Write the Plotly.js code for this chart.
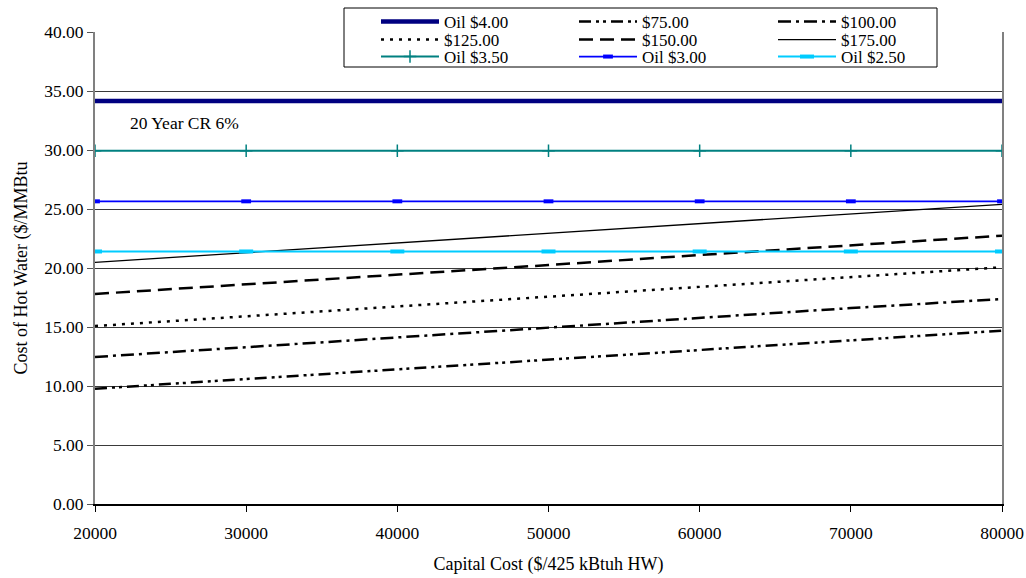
<!DOCTYPE html>
<html>
<head>
<meta charset="utf-8">
<script src="https://cdn.plot.ly/plotly-3.0.1.min.js"></script>
<style>html,body{margin:0;padding:0;background:#fff;}#chart{width:1026px;height:578px;}</style>
</head>
<body>
<div id="chart"></div>
<script>
// Capital cost ($/425 kBtuh HW)
const capitalCost = [20000, 30000, 40000, 50000, 60000, 70000, 80000];

// Cost of hot water ($/MMBtu)
const oil400 = [34.15, 34.15, 34.15, 34.15, 34.15, 34.15, 34.15];
const cap75  = [9.77, 10.6, 11.4, 12.25, 13.05, 13.9, 14.69];
const cap100 = [12.46, 13.28, 14.1, 14.95, 15.8, 16.6, 17.37];
const cap125 = [15.08, 15.9, 16.75, 17.55, 18.4, 19.2, 20.06];
const cap150 = [17.8, 18.6, 19.45, 20.25, 21.1, 21.9, 22.74];
const cap175 = [20.48, 21.3, 22.1, 22.9, 23.7, 24.55, 25.4];
const oil350 = [29.94, 29.94, 29.94, 29.94, 29.94, 29.94, 29.94];
const oil300 = [25.65, 25.65, 25.65, 25.65, 25.65, 25.65, 25.65];
const oil250 = [21.4, 21.4, 21.4, 21.4, 21.4, 21.4, 21.4];

const seriesNames = ['Oil $4.00', '$75.00', '$100.00', '$125.00', '$150.00', '$175.00', 'Oil $3.50', 'Oil $3.00', 'Oil $2.50'];
const annotationText = '20 Year CR 6%';
const xTitle = 'Capital Cost ($/425 kBtuh HW)';
const yTitle = 'Cost of Hot Water ($/MMBtu';

const serif = "'Times New Roman', 'Liberation Serif', serif";

function tr(name, y, line, marker, legendId) {
  const t = {x: capitalCost, y: y, name: name, type: 'scatter', line: line, legend: legendId, hoverinfo: 'skip'};
  if (marker) { t.mode = 'lines+markers'; t.marker = marker; } else { t.mode = 'lines'; }
  return t;
}

const data = [
  tr(seriesNames[0], oil400, {color: '#000080', width: 4.5}, null, 'legend'),
  tr(seriesNames[1], cap75, {color: '#000000', width: 2.5, dash: '12px,5px,3px,4px,3px,5px'}, null, 'legend2'),
  tr(seriesNames[2], cap100, {color: '#000000', width: 2.5, dash: '13px,5px,3px,5px'}, null, 'legend3'),
  tr(seriesNames[3], cap125, {color: '#000000', width: 2.5, dash: '3px,6px'}, null, 'legend4'),
  tr(seriesNames[4], cap150, {color: '#000000', width: 2.5, dash: '14px,7px'}, null, 'legend5'),
  tr(seriesNames[5], cap175, {color: '#000000', width: 1.3}, null, 'legend6'),
  tr(seriesNames[6], oil350, {color: '#008080', width: 2}, {symbol: 'cross-thin', size: 9, line: {color: '#008080', width: 1.5}}, 'legend7'),
  tr(seriesNames[7], oil300, {color: '#0000FF', width: 1.8}, {symbol: 'line-ew', size: 7, line: {color: '#0000FF', width: 4}}, 'legend8'),
  tr(seriesNames[8], oil250, {color: '#00CCFF', width: 2}, {symbol: 'line-ew', size: 10, line: {color: '#00CCFF', width: 4}}, 'legend9')
];

// legend placement: columns and rows in pixel space converted to paper coords
const L = 95, R = 24, T = 32, B = 74, W = 1026, H = 578;
const pw = W - L - R, ph = H - T - B;
const colPx = [376, 574, 773];
const rowPx = [22, 40, 57];
function legendAt(i) {
  const c = i % 3, r = Math.floor(i / 3);
  return {
    x: (colPx[c] - L) / pw, xanchor: 'left',
    y: (H - B - rowPx[r]) / ph, yanchor: 'middle',
    bgcolor: 'rgba(0,0,0,0)', borderwidth: 0,
    font: {family: serif, size: 17, color: '#000'},
    itemwidth: 58, orientation: 'v', tracegroupgap: 0
  };
}

const layout = {
  width: W, height: H,
  margin: {l: L, r: R, t: T, b: B, autoexpand: false},
  paper_bgcolor: '#ffffff', plot_bgcolor: '#ffffff',
  font: {family: serif, size: 18, color: '#000'},
  showlegend: true,
  xaxis: {
    range: [20000, 80000], dtick: 10000, tick0: 20000,
    showgrid: false, zeroline: false,
    showline: true, linecolor: '#000000', linewidth: 1.5,
    ticks: 'outside', ticklen: 6, tickcolor: '#000', tickwidth: 1,
    ticklabelstandoff: 6,
    tickformat: 'd',
    tickfont: {family: serif, size: 17.5, color: '#000'},
    title: {text: xTitle, font: {family: serif, size: 18, color: '#000'}, standoff: 16}
  },
  yaxis: {
    range: [0, 40], dtick: 5, tick0: 0,
    tickformat: '.2f',
    showgrid: true, gridcolor: '#3a3a3a', gridwidth: 1,
    zeroline: false,
    showline: true, linecolor: '#808080', linewidth: 2, mirror: true,
    ticks: 'outside', ticklen: 6, tickcolor: '#555', tickwidth: 1,
    tickfont: {family: serif, size: 17.5, color: '#000'},
    title: {text: yTitle, font: {family: serif, size: 18, color: '#000'}, standoff: 12}
  },
  shapes: [{
    type: 'rect', xref: 'paper', yref: 'paper',
    x0: (344 - L) / pw, x1: (937 - L) / pw,
    y0: (H - B - 67) / ph, y1: (H - B - 8) / ph,
    fillcolor: '#ffffff', line: {color: '#000000', width: 1}, layer: 'above'
  }],
  annotations: [{
    x: 22200, y: 32.3, xref: 'x', yref: 'y', xanchor: 'left', yanchor: 'middle',
    text: annotationText, showarrow: false,
    font: {family: serif, size: 17.5, color: '#000'}
  }]
};
for (let i = 0; i < 9; i++) {
  layout[i === 0 ? 'legend' : 'legend' + (i + 1)] = legendAt(i);
}

Plotly.newPlot('chart', data, layout, {staticPlot: true, displayModeBar: false});
</script>
</body>
</html>
